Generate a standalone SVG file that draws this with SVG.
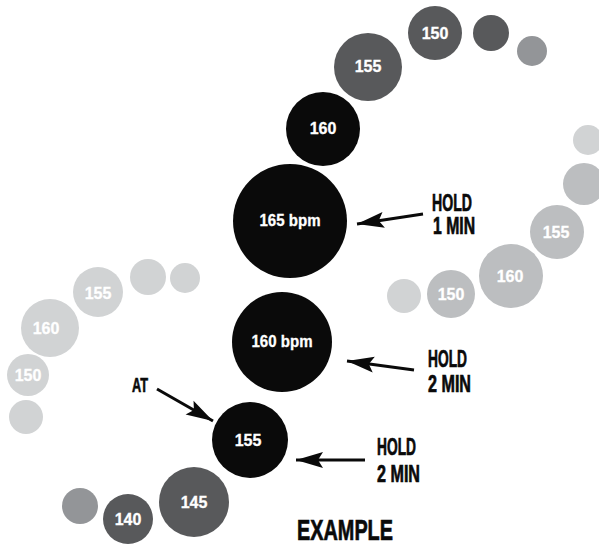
<svg xmlns="http://www.w3.org/2000/svg" width="599" height="544" viewBox="0 0 599 544">
  <defs>
    <style>
      .blk { fill: #0a0a0a; }
      .drk { fill: #58595b; }
      .mid { fill: #939598; }
      .gry { fill: #bcbec0; }
      .lgt { fill: #d1d3d4; }
      .num { font-family: "Liberation Sans", Arial, sans-serif; font-weight: bold; font-size: 16px; fill: #ffffff; stroke: #ffffff; stroke-width: 0.3; text-anchor: middle; }
      .lbl { font-family: "Liberation Sans", Arial, sans-serif; font-weight: bold; fill: #0a0a0a; stroke: #0a0a0a; stroke-width: 0.7; }
      .arrow { stroke: #0a0a0a; stroke-width: 3; fill: none; marker-end: url(#head); }
    </style>
    <marker id="head" markerUnits="userSpaceOnUse" viewBox="-28 -9 30 18" refX="0" refY="0" markerWidth="30" markerHeight="18" orient="auto">
      <path d="M0,0 L-27,-8 L-22,0 L-27,8 Z" fill="#0a0a0a"/>
    </marker>
  </defs>

  <rect width="599" height="544" fill="#ffffff"/>

  <!-- top-right dark chain -->
  <g id="top-150"><circle class="drk" cx="435" cy="33" r="27"/><text class="num" x="435" y="39">150</text></g>
  <g id="top-dot-1"><circle class="drk" cx="491" cy="33" r="18"/></g>
  <g id="top-dot-2"><circle class="mid" cx="532" cy="51" r="15"/></g>
  <g id="top-155"><circle class="drk" cx="368" cy="67" r="34"/><text class="num" x="368" y="72">155</text></g>

  <!-- central black chain -->
  <g id="c-160"><circle class="blk" cx="323" cy="129" r="37"/><text class="num" x="323" y="134">160</text></g>
  <g id="c-165"><circle class="blk" cx="290" cy="221" r="57"/><text class="num" x="290" y="226" textLength="61" lengthAdjust="spacingAndGlyphs">165 bpm</text></g>
  <g id="c-160b"><circle class="blk" cx="282" cy="342" r="50"/><text class="num" x="282" y="347" textLength="61" lengthAdjust="spacingAndGlyphs">160 bpm</text></g>
  <g id="c-155"><circle class="blk" cx="250" cy="440" r="38"/><text class="num" x="248" y="446">155</text></g>

  <!-- bottom-left dark chain -->
  <g id="b-145"><circle class="drk" cx="194" cy="502" r="35"/><text class="num" x="194" y="508">145</text></g>
  <g id="b-140"><circle class="drk" cx="128" cy="519" r="25"/><text class="num" x="128" y="525">140</text></g>
  <g id="b-dot"><circle class="mid" cx="80" cy="506" r="18"/></g>

  <!-- right gray chain -->
  <g id="r-dot-1"><circle class="lgt" cx="588" cy="140" r="15"/></g>
  <g id="r-dot-2"><circle class="gry" cx="584" cy="184" r="21"/></g>
  <g id="r-155"><circle class="gry" cx="557" cy="232" r="27"/><text class="num" x="556" y="238">155</text></g>
  <g id="r-160"><circle class="gry" cx="511" cy="276" r="32"/><text class="num" x="510" y="282">160</text></g>
  <g id="r-150"><circle class="gry" cx="451" cy="294" r="24"/><text class="num" x="451" y="300">150</text></g>
  <g id="r-dot-3"><circle class="lgt" cx="404" cy="296" r="17"/></g>

  <!-- left light chain -->
  <g id="l-dot-1"><circle class="lgt" cx="185" cy="278" r="15"/></g>
  <g id="l-dot-2"><circle class="lgt" cx="148" cy="277" r="18"/></g>
  <g id="l-155"><circle class="lgt" cx="98" cy="292" r="25"/><text class="num" x="98" y="299">155</text></g>
  <g id="l-160"><circle class="lgt" cx="50" cy="328" r="29"/><text class="num" x="46" y="334">160</text></g>
  <g id="l-150"><circle class="lgt" cx="28" cy="375" r="21"/><text class="num" x="28" y="381">150</text></g>
  <g id="l-dot-3"><circle class="lgt" cx="26" cy="417" r="17"/></g>

  <!-- pointers -->
  <g id="connectors">
    <line class="arrow" x1="423" y1="214" x2="357" y2="224"/>
    <line class="arrow" x1="414" y1="370" x2="347" y2="361"/>
    <line class="arrow" x1="365" y1="460" x2="296" y2="460"/>
    <line class="arrow" x1="157" y1="389" x2="213" y2="421"/>
  </g>

  <!-- labels -->
  <g id="label-hold-1">
    <text class="lbl" font-size="23" x="432" y="211" textLength="40" lengthAdjust="spacingAndGlyphs">HOLD</text>
    <text class="lbl" font-size="23" x="433" y="234" textLength="42" lengthAdjust="spacingAndGlyphs">1 MIN</text>
  </g>
  <g id="label-hold-2">
    <text class="lbl" font-size="23" x="428" y="367" textLength="39" lengthAdjust="spacingAndGlyphs">HOLD</text>
    <text class="lbl" font-size="23" x="428" y="392" textLength="43" lengthAdjust="spacingAndGlyphs">2 MIN</text>
  </g>
  <g id="label-hold-3">
    <text class="lbl" font-size="23" x="377" y="455" textLength="39" lengthAdjust="spacingAndGlyphs">HOLD</text>
    <text class="lbl" font-size="23" x="377" y="482" textLength="43" lengthAdjust="spacingAndGlyphs">2 MIN</text>
  </g>
  <g id="label-at">
    <text class="lbl" font-size="21" x="132" y="392" textLength="16" lengthAdjust="spacingAndGlyphs">AT</text>
  </g>
  <g id="label-example">
    <text class="lbl" font-size="29" x="297" y="540" textLength="96" lengthAdjust="spacingAndGlyphs">EXAMPLE</text>
  </g>
</svg>
